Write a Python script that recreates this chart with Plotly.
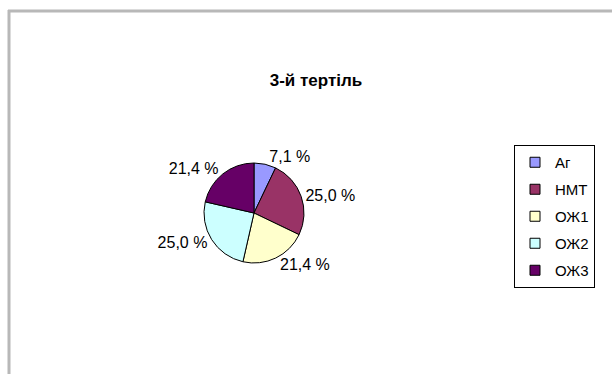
import plotly.graph_objects as go

categories = ["Аг", "НМТ", "ОЖ1", "ОЖ2", "ОЖ3"]
values = [7.1, 25.0, 21.4, 25.0, 21.4]
value_labels = ["7,1 %", "25,0 %", "21,4 %", "25,0 %", "21,4 %"]
colors = ["#9999FF", "#993366", "#FFFFCC", "#CCFFFF", "#660066"]
title_text = "3-й тертіль"

W, H = 612, 374
FONT = "Liberation Sans, Arial"
fig = go.Figure()
fig.add_trace(go.Pie(
    labels=categories,
    values=values,
    text=value_labels,
    textinfo="text",
    textposition="outside",
    textfont=dict(family=FONT, size=16, color="#000000"),
    marker=dict(colors=colors, line=dict(color="#000000", width=1)),
    sort=False,
    direction="clockwise",
    rotation=0,
    domain=dict(x=[204 / W, 304 / W], y=[(H - 263) / H, (H - 163) / H]),
    hoverinfo="label+text",
    showlegend=False,
))

# legend entries (one per category), spaced like the original legend
for name, col in zip(categories, colors):
    fig.add_trace(go.Scatter(
        x=[None], y=[None], mode="markers", name=name,
        legendgroup=name,
        marker=dict(symbol="square", size=10, color=col,
                    line=dict(color="#000000", width=1)),
    ))

fig.update_layout(
    width=W, height=H,
    margin=dict(l=0, r=0, t=0, b=0),
    paper_bgcolor="#FFFFFF",
    plot_bgcolor="#FFFFFF",
    font=dict(family=FONT, color="#000000"),
    xaxis=dict(visible=False),
    yaxis=dict(visible=False),
    title=dict(text="<b>" + title_text + "</b>", x=316 / W, xanchor="center",
               y=(H - 80) / H, yanchor="middle",
               font=dict(size=17, family=FONT)),
    legend=dict(x=514 / W, xanchor="left", y=(H - 145) / H, yanchor="top",
                bordercolor="#000000", borderwidth=1, bgcolor="#FFFFFF",
                font=dict(size=15, family=FONT),
                itemwidth=30, tracegroupgap=4.5),
    showlegend=True,
    shapes=[
        dict(type="line", xref="paper", yref="paper", x0=8 / W, x1=1, y0=(H - 11) / H, y1=(H - 11) / H,
             line=dict(color="#B8B8B8", width=3)),
        dict(type="line", xref="paper", yref="paper", x0=9 / W, x1=9 / W, y0=0, y1=(H - 10) / H,
             line=dict(color="#B8B8B8", width=3)),
    ],
)

fig.write_html("out.html")
